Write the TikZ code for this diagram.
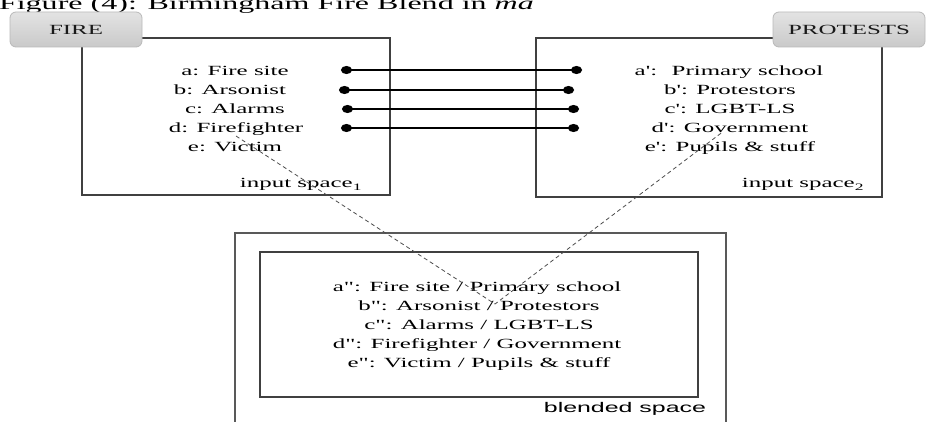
\documentclass[tikz,border=0pt]{standalone}
\usepackage{fontspec}
\newfontfamily\figserif{Liberation Serif}[FakeStretch=1.78]
\newfontfamily\figsans{Liberation Sans}[FakeStretch=1.78]
\usetikzlibrary{arrows.meta}

\begin{document}
\begin{tikzpicture}[x=1pt, y=-1pt,
    every node/.style={font=\figserif\fontsize{14}{19}\selectfont, inner sep=0pt, outer sep=0pt},
    space/.style={draw=black!75, line width=1.3pt},
    tab/.style={draw=gray!55, line width=0.8pt, rounded corners=6pt, top color=gray!22, bottom color=gray!42, text=black!90, minimum height=35pt},
    link/.style={line width=1.8pt, {Circle[length=11pt,width=8pt]}-{Circle[length=11pt,width=8pt]}},
    proj/.style={dash pattern=on 4pt off 3pt, line width=0.8pt, black!70}]
        \path[use as bounding box] (0,0) rectangle (928,422);
        \clip (0,0) rectangle (928,422);

        % caption (cut off at the top)
        \node[anchor=base west, font=\figserif\fontsize{18}{20}\selectfont] (caption) at (-1,10) {Figure (4): Birmingham Fire Blend in \textit{ma}};

        % input spaces
        \node[space, minimum width=308pt, minimum height=157pt] (in1) at (236,116.5) {};
        \node[space, minimum width=346pt, minimum height=159pt] (in2) at (709,117.5) {};
        \node[tab, minimum width=132pt] (fire) at (76,29.5) {FIRE};
        \node[tab, minimum width=152pt] (protests) at (849,29.5) {PROTESTS};

        \node[anchor=base] (a1) at (235,76)  {a: Fire site};
        \node[anchor=base] (b1) at (230,95)  {b: Arsonist};
        \node[anchor=base] (c1) at (235,114) {c: Alarms};
        \node[anchor=base] (d1) at (236,133) {d: Firefighter};
        \node[anchor=base] (e1) at (235,152) {e: Victim};
        \node[anchor=base east] (lab1) at (362,188) {input space\textsubscript{1}};

        \node[anchor=base] (a2) at (729,76)  {a':~ Primary school};
        \node[anchor=base] (b2) at (730,95)  {b': Protestors};
        \node[anchor=base] (c2) at (730,114) {c': LGBT-LS};
        \node[anchor=base] (d2) at (730,133) {d': Government};
        \node[anchor=base] (e2) at (730,152) {e': Pupils \& stuff};
        \node[anchor=base east] (lab2) at (864,188) {input space\textsubscript{2}};

        % blended space
        \node[space, draw=black!65, minimum width=491pt, minimum height=220pt] (blend) at (480.5,343) {};
        \node[space, minimum width=438pt, minimum height=145pt] (blendin) at (479,324.5) {};
        \node[anchor=base] (a3) at (477,291) {a": Fire site / Primary school};
        \node[anchor=base] (b3) at (479,310) {b": Arsonist / Protestors};
        \node[anchor=base] (c3) at (479,329) {c": Alarms / LGBT-LS};
        \node[anchor=base] (d3) at (477,348) {d": Firefighter / Government};
        \node[anchor=base] (e3) at (479,367) {e": Victim / Pupils \& stuff};
        \node[anchor=base east, font=\figsans\fontsize{14}{19}\selectfont] (lab3) at (706,412) {blended space};

        % counterpart links
        \coordinate (la) at (341,70);  \coordinate (ra) at (582,70);
        \coordinate (lb) at (339,90);  \coordinate (rb) at (574,90);
        \coordinate (lc) at (342,109); \coordinate (rc) at (579,109);
        \coordinate (ld) at (341,128); \coordinate (rd) at (579,128);
        \draw[link] (la) -- (ra);
        \draw[link] (lb) -- (rb);
        \draw[link] (lc) -- (rc);
        \draw[link] (ld) -- (rd);

        % projections into the blend
        \coordinate (meet) at (495,304);
        \draw[proj] (d1.south) -- (meet);
        \draw[proj] ([xshift=-9pt]d2.south) -- (meet);
    \end{tikzpicture}
\end{document}
